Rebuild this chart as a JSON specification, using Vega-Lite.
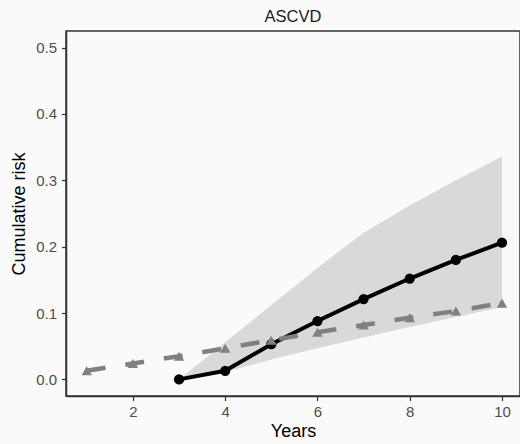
{
  "$schema": "https://vega.github.io/schema/vega-lite/v6.json",
  "autosize": {"type": "none"},
  "width": 454,
  "height": 365,
  "padding": {"left": 66, "top": 31, "right": 0, "bottom": 48},
  "background": "#fafafa",
  "title": {"text": "ASCVD", "fontSize": 16.5, "font": "Liberation Sans", "fontWeight": "normal", "color": "#1a1a1a", "offset": 6, "anchor": "middle"},
  "config": {
    "view": {"stroke": "#333333", "strokeWidth": 1.5, "fill": "#fafafa"},
    "axis": {"domainColor": "#333333", "domainWidth": 1.5, "tickColor": "#333333", "tickSize": 4.5, "tickWidth": 1.2, "labelColor": "#4d4d4d", "labelFont": "Liberation Sans", "labelFontSize": 15, "titleFont": "Liberation Sans", "titleFontSize": 18, "titleFontWeight": "normal", "titleColor": "#000000", "grid": false}
  },
  "datasets": {
    "obs": [
      {"year": 3, "risk": 0.0, "lo": 0.0, "hi": 0.0},
      {"year": 4, "risk": 0.013, "lo": 0.011, "hi": 0.056},
      {"year": 5, "risk": 0.053, "lo": 0.03, "hi": 0.112},
      {"year": 6, "risk": 0.088, "lo": 0.047, "hi": 0.168},
      {"year": 7, "risk": 0.121, "lo": 0.063, "hi": 0.221},
      {"year": 8, "risk": 0.152, "lo": 0.079, "hi": 0.262},
      {"year": 9, "risk": 0.18, "lo": 0.094, "hi": 0.3},
      {"year": 10, "risk": 0.206, "lo": 0.109, "hi": 0.336}
    ],
    "pred": [
      {"year": 1, "risk": 0.013},
      {"year": 2, "risk": 0.024},
      {"year": 3, "risk": 0.035},
      {"year": 4, "risk": 0.047},
      {"year": 5, "risk": 0.059},
      {"year": 6, "risk": 0.071},
      {"year": 7, "risk": 0.082},
      {"year": 8, "risk": 0.093},
      {"year": 9, "risk": 0.103},
      {"year": 10, "risk": 0.115}
    ]
  },
  "layer": [
    {"data": {"name": "obs"}, "mark": {"type": "area", "color": "#d9d9d9", "opacity": 1},
     "encoding": {
       "x": {"field": "year", "type": "quantitative", "scale": {"domain": [0.55, 10.39], "nice": false, "zero": false}, "axis": {"title": "Years", "values": [2, 4, 6, 8, 10], "labelPadding": 4, "titlePadding": 3}},
       "y": {"field": "hi", "type": "quantitative", "scale": {"domain": [-0.025, 0.525], "nice": false, "zero": false}, "axis": {"title": "Cumulative risk", "values": [0, 0.1, 0.2, 0.3, 0.4, 0.5], "format": ".1f", "labelPadding": 5, "titlePadding": 7}},
       "y2": {"field": "lo"}}},
    {"data": {"name": "obs"}, "mark": {"type": "line", "color": "#000000", "strokeWidth": 4},
     "encoding": {"x": {"field": "year", "type": "quantitative"}, "y": {"field": "risk", "type": "quantitative"}}},
    {"data": {"name": "obs"}, "mark": {"type": "point", "shape": "circle", "filled": true, "color": "#000000", "size": 105, "opacity": 1},
     "encoding": {"x": {"field": "year", "type": "quantitative"}, "y": {"field": "risk", "type": "quantitative"}}},
    {"data": {"name": "pred"}, "mark": {"type": "line", "color": "#808080", "strokeWidth": 4.5, "strokeDash": [19, 20]},
     "encoding": {"x": {"field": "year", "type": "quantitative"}, "y": {"field": "risk", "type": "quantitative"}}},
    {"data": {"name": "pred"}, "mark": {"type": "point", "shape": "triangle-up", "filled": true, "color": "#808080", "size": 110, "opacity": 1},
     "encoding": {"x": {"field": "year", "type": "quantitative"}, "y": {"field": "risk", "type": "quantitative"}}}
  ]
}
